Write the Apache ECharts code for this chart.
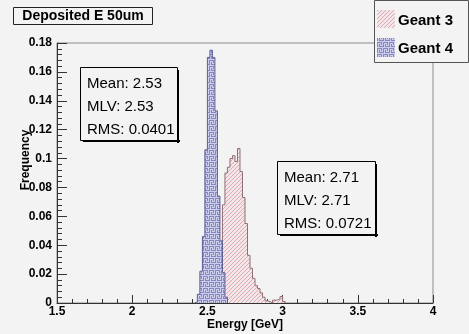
<!DOCTYPE html>
<html><head><meta charset="utf-8">
<script src="https://cdn.jsdelivr.net/npm/echarts/dist/echarts.min.js"></script>
<style>html,body{margin:0;padding:0;background:#f3f3f3}#c{width:469px;height:334px}</style>
</head><body><div id="c"></div>
<script>
// ---- data ----
const BIN_WIDTH = 1 / 60;               // histogram bin width [GeV]
const xRange = [1.5, 4];
const yRange = [0, 0.18];
const titleText = 'Deposited E 50um';
const xTitle = 'Energy [GeV]';
const yTitle = 'Frequency';
const seriesNames = ['Geant 3', 'Geant 4'];

// Geant 4 (blue) bin low edges and frequencies
const g4Edges = [2.4167, 2.4333, 2.45, 2.4667, 2.4833, 2.5, 2.5167, 2.5333, 2.55, 2.5667, 2.5833, 2.6, 2.6167];
const g4Freq  = [0.001, 0.006, 0.022, 0.046, 0.106, 0.170, 0.175, 0.170, 0.133, 0.074, 0.043, 0.021, 0.004];

// Geant 3 (pink) bin low edges and frequencies
const g3Edges = [2.5333, 2.55, 2.5667, 2.5833, 2.6, 2.6167, 2.6333, 2.65, 2.6667, 2.6833, 2.7, 2.7167, 2.7333, 2.75, 2.7667, 2.7833, 2.8, 2.8167, 2.8333, 2.85, 2.8667, 2.8833, 2.9, 2.9167, 2.9333, 2.95, 2.9667, 2.9833, 3.0];
const g3Freq  = [0.005, 0.006, 0.011, 0.024, 0.068, 0.090, 0.094, 0.100, 0.102, 0.098, 0.107, 0.091, 0.073, 0.055, 0.033, 0.024, 0.017, 0.012, 0.010, 0.007, 0.004, 0.0015, 0.001, 0, 0.002, 0.002, 0.003, 0.0045, 0.001];

const statsG4 = ['Mean: 2.53', 'MLV: 2.53', 'RMS: 0.0401'];
const statsG3 = ['Mean: 2.71', 'MLV: 2.71', 'RMS: 0.0721'];

// ---- helpers ----
function stepPoints(edges, freq) {
  const pts = [[edges[0], 0]];
  for (let i = 0; i < edges.length; i++) pts.push([edges[i], freq[i]]);
  pts.push([edges[edges.length - 1] + BIN_WIDTH, 0]);
  return pts;
}
function makeHatch() {
  const c = document.createElement('canvas'); c.width = 4; c.height = 4;
  const ctx = c.getContext('2d');
  ctx.fillStyle = '#f2e6e8'; ctx.fillRect(0, 0, 4, 4);
  ctx.fillStyle = '#dcaab2';
  for (let i = 0; i < 4; i++) ctx.fillRect(i, 3 - i, 1, 1);
  return c;
}
function makeMaze() {
  const rows = ['XXXX.X', '...X.X', '.X.X.X', '.X...X', '.XXXXX', '......'];
  const c = document.createElement('canvas'); c.width = 6; c.height = 6;
  const ctx = c.getContext('2d');
  ctx.fillStyle = '#cdcdec'; ctx.fillRect(0, 0, 6, 6);
  ctx.fillStyle = '#8686c2';
  rows.forEach((r, y) => { for (let x = 0; x < 6; x++) if (r[x] === 'X') ctx.fillRect(x, y, 1, 1); });
  return c;
}
const hatch = makeHatch();
const maze = makeMaze();
const FONT = "'Liberation Sans', Arial, sans-serif";

function statsBox(x, y, w, h, lines) {
  const children = [
    { type: 'rect', shape: { x: x + 3, y: y + h, width: w, height: 2 }, style: { fill: '#000' } },
    { type: 'rect', shape: { x: x + w, y: y + 3, width: 2, height: h }, style: { fill: '#000' } },
    { type: 'rect', shape: { x: x + 0.5, y: y + 0.5, width: w, height: h }, style: { fill: '#f3f3f3', stroke: '#000', lineWidth: 1 } }
  ];
  lines.forEach((t, i) => children.push({
    type: 'text', x: x + 7, y: y + 16.5 + i * 23.3,
    style: { text: t, font: '15px ' + FONT, fill: '#000', textAlign: 'left', textVerticalAlign: 'middle' }
  }));
  return { type: 'group', children: children };
}

const chart = echarts.init(document.getElementById('c'), null, { renderer: 'canvas' });
const axisCol = '#333';
chart.setOption({
  backgroundColor: '#f3f3f3',
  animation: false,
  grid: { left: 57, right: 36, top: 43, bottom: 31, show: true, borderColor: '#8a8a8a', borderWidth: 1, backgroundColor: 'transparent' },
  xAxis: {
    type: 'value', min: xRange[0], max: xRange[1], interval: 0.5,
    axisLine: { show: true, onZero: false, lineStyle: { color: axisCol } },
    axisTick: { show: true, inside: true, length: 8, lineStyle: { color: axisCol } },
    minorTick: { show: true, splitNumber: 5, length: 4, lineStyle: { color: axisCol } },
    splitLine: { show: false },
    axisLabel: { margin: 3, color: '#000', fontFamily: FONT, fontWeight: 'bold', fontSize: 12 }
  },
  yAxis: {
    type: 'value', min: yRange[0], max: yRange[1], interval: 0.02,
    axisLine: { show: true, onZero: false, lineStyle: { color: axisCol } },
    axisTick: { show: true, inside: true, length: 10, lineStyle: { color: axisCol } },
    minorTick: { show: true, splitNumber: 5, length: 5, lineStyle: { color: axisCol } },
    splitLine: { show: false },
    axisLabel: { margin: 5, color: '#000', fontFamily: FONT, fontWeight: 'bold', fontSize: 12 }
  },
  series: [
    {
      name: seriesNames[0], type: 'line', step: 'end', data: stepPoints(g3Edges, g3Freq),
      showSymbol: false, symbol: 'none', silent: true, z: 2,
      lineStyle: { color: '#8f7076', width: 1 },
      areaStyle: { color: { image: hatch, repeat: 'repeat' }, opacity: 1 }
    },
    {
      name: seriesNames[1], type: 'line', step: 'end', data: stepPoints(g4Edges, g4Freq),
      showSymbol: false, symbol: 'none', silent: true, z: 3,
      lineStyle: { color: '#5e5e94', width: 1 },
      areaStyle: { color: { image: maze, repeat: 'repeat' }, opacity: 1 }
    }
  ],
  graphic: [
    // title
    { type: 'rect', shape: { x: 13.5, y: 7.5, width: 139, height: 17 }, style: { fill: '#f3f3f3', stroke: '#222', lineWidth: 1 } },
    { type: 'text', x: 83, y: 16.5, style: { text: titleText, font: 'bold 14px ' + FONT, fill: '#000', textAlign: 'center', textVerticalAlign: 'middle' } },
    // legend
    { type: 'rect', shape: { x: 374.5, y: 0.5, width: 94, height: 62 }, style: { fill: '#f3f3f3', stroke: '#555', lineWidth: 1 } },
    { type: 'rect', shape: { x: 377, y: 10, width: 18, height: 18 }, style: { fill: { image: hatch, repeat: 'repeat' } } },
    { type: 'text', x: 398, y: 21, style: { text: seriesNames[0], font: 'bold 15px ' + FONT, fill: '#000', textAlign: 'left', textVerticalAlign: 'middle' } },
    { type: 'rect', shape: { x: 377, y: 38, width: 18, height: 19 }, style: { fill: { image: maze, repeat: 'repeat' } } },
    { type: 'text', x: 398, y: 49, style: { text: seriesNames[1], font: 'bold 15px ' + FONT, fill: '#000', textAlign: 'left', textVerticalAlign: 'middle' } },
    // stats boxes
    statsBox(80, 67, 97, 73, statsG4),
    statsBox(277, 161, 98, 73, statsG3),
    // axis titles
    { type: 'text', x: 245, y: 325, style: { text: xTitle, font: 'bold 12px ' + FONT, fill: '#000', textAlign: 'center', textVerticalAlign: 'middle' } },
    { type: 'text', x: 26, y: 160, rotation: Math.PI / 2, style: { text: yTitle, font: 'bold 12px ' + FONT, fill: '#000', textAlign: 'center', textVerticalAlign: 'middle' } }
  ]
});
</script>
</body></html>
